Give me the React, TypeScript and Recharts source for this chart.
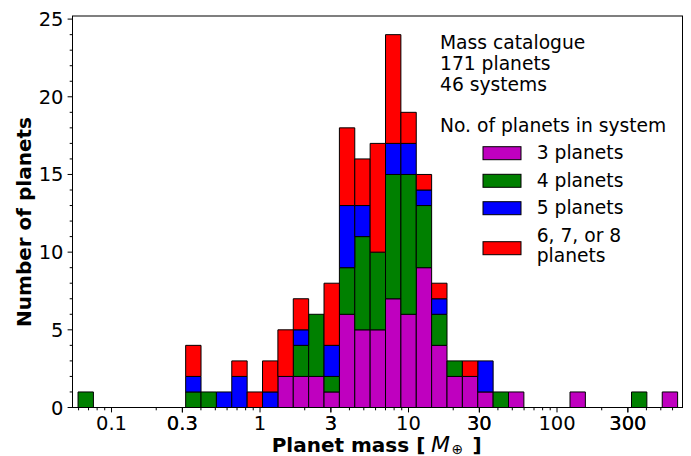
import {BarChart, Bar, XAxis, YAxis} from "recharts";

// histogram bins: equal width in log(mass)
const nBins = 39;
const binLo = 0.0595;
const binHi = 649;

// planets per bin, split by number of planets in the system
const threePlanets = [0, 0, 0, 0, 0, 0, 0, 0, 0, 0, 0, 0, 0, 2, 2, 2, 1, 6, 5, 5, 7, 6, 9, 4, 2, 2, 1, 0, 1, 0, 0, 0, 1, 0, 0, 0, 0, 0, 1];
const fourPlanets = [1, 0, 0, 0, 0, 0, 0, 1, 1, 0, 0, 0, 0, 0, 2, 4, 1, 3, 6, 5, 8, 9, 4, 2, 1, 0, 0, 1, 0, 0, 0, 0, 0, 0, 0, 0, 1, 0, 0];
const fivePlanets = [0, 0, 0, 0, 0, 0, 0, 1, 0, 1, 2, 0, 1, 0, 1, 0, 2, 4, 2, 0, 2, 2, 1, 1, 0, 0, 2, 0, 0, 0, 0, 0, 0, 0, 0, 0, 0, 0, 0];
const sixPlusPlanets = [0, 0, 0, 0, 0, 0, 0, 2, 0, 0, 1, 1, 2, 3, 2, 0, 4, 5, 3, 7, 7, 2, 1, 1, 0, 1, 0, 0, 0, 0, 0, 0, 0, 0, 0, 0, 0, 0, 0];

const xMajor = [0.1, 0.3, 1, 3, 10, 30, 100, 300];
const yMajor = [0, 5, 10, 15, 20, 25];
const xLimits = [0.0546, 700];

const series = [
  {key: "three", name: "3 planets", color: "#bf00bf"},
  {key: "four", name: "4 planets", color: "#008000"},
  {key: "five", name: "5 planets", color: "#0000ff"},
  {key: "six", name: "6, 7, or 8\nplanets", color: "#ff0000"},
];

const FONT = "DejaVu Sans, sans-serif";

const lo = Math.log10(binLo);
const step = (Math.log10(binHi) - lo) / nBins;
const data = threePlanets.map((v, i) => ({
  logm: lo + (i + 0.5) * step,
  three: v,
  four: fourPlanets[i],
  five: fivePlanets[i],
  six: sixPlusPlanets[i],
}));

// minor log ticks 2..9 per decade
var xMinor: number[] = [];
for (let d = -2; d <= 2; d++) {
  for (let k = 2; k <= 9; k++) {
    const v = k * Math.pow(10, d);
    if (v > xLimits[0] && v < xLimits[1]) xMinor.push(v);
  }
}
const xTicks = [...xMajor, ...xMinor].map((t) => Math.log10(t)).sort((a, b) => a - b);
const yTicks = Array.from({length: 26}, (_, i) => i);

function XTick(props: any) {
  const {x, y, payload} = props;
  const major = xMajor.find((t) => Math.abs(Math.log10(t) - payload.value) < 1e-6);
  return (
    <g>
      <line x1={x} x2={x} y1={y} y2={y + (major ? 4.9 : 2.8)} stroke="#000" strokeWidth={1} />
      {major !== undefined && (
        <text x={x} y={y + 22.5} textAnchor="middle" fontSize={19.5} fontFamily={FONT} fill="#000">
          {String(major)}
        </text>
      )}
    </g>
  );
}

function YTick(props: any) {
  const {x, y, payload} = props;
  const major = yMajor.includes(payload.value);
  return (
    <g>
      <line x1={x} x2={x - (major ? 4.9 : 2.8)} y1={y} y2={y} stroke="#000" strokeWidth={1} />
      {major && (
        <text x={x - 9} y={y + 7} textAnchor="end" fontSize={19.5} fontFamily={FONT} fill="#000">
          {payload.value}
        </text>
      )}
    </g>
  );
}

const plot = {left: 72.5, top: 16, right: 682.5, bottom: 407.5};

export default function App() {
  return (
    <div style={{position: "absolute", left: 0, top: 0, width: 691, height: 456, background: "#fff"}}>
      <BarChart
        width={691}
        height={456}
        data={data}
        margin={{top: plot.top, right: 691 - plot.right, bottom: 18.5, left: 12.5}}
        barGap={0}
        barCategoryGap={0}
      >
        <XAxis
          type="number"
          dataKey="logm"
          domain={[Math.log10(xLimits[0]), Math.log10(xLimits[1])]}
          allowDataOverflow
          ticks={xTicks}
          interval={0}
          tickLine={false}
          axisLine={false}
          tickSize={0}
          tickMargin={0}
          height={30}
          tick={<XTick />}
        />
        <YAxis
          type="number"
          domain={[0, 25.2]}
          allowDataOverflow
          ticks={yTicks}
          interval={0}
          tickLine={false}
          axisLine={false}
          tickSize={0}
          tickMargin={0}
          width={60}
          tick={<YTick />}
        />
        {series.map((s) => (
          <Bar
            key={s.key}
            dataKey={s.key}
            stackId="n"
            fill={s.color}
            stroke="#000"
            strokeWidth={1}
            barSize={15.37}
            isAnimationActive={false}
          />
        ))}
      </BarChart>
      <svg
        width={691}
        height={456}
        style={{position: "absolute", left: 0, top: 0, pointerEvents: "none"}}
        fontFamily={FONT}
      >
        <rect
          x={plot.left}
          y={plot.top}
          width={plot.right - plot.left}
          height={plot.bottom - plot.top}
          fill="none"
          stroke="#000"
          strokeWidth={1}
        />
        <text x={271.7} y={451.5} fontSize={20} fontWeight="bold">
          Planet mass [
          <tspan x={431} fontStyle="italic" fontWeight="normal" fontSize={22}>M</tspan>
          <tspan x={451.5} fontSize={14} fontWeight="normal" dy={2}>⊕</tspan>
          <tspan x={472.5} dy={-2}>]</tspan>
        </text>
        <text
          transform="translate(31, 222) rotate(-90)"
          textAnchor="middle"
          fontSize={20}
          fontWeight="bold"
        >
          Number of planets
        </text>
        <g fontSize={18.7}>
          <text x={440} y={48.5}>Mass catalogue</text>
          <text x={440} y={69.5}>171 planets</text>
          <text x={440} y={90.5}>46 systems</text>
          <text x={440} y={132}>No. of planets in system</text>
          {series.map((s, i) => {
            const yTop = [146.7, 174.3, 201.7, 241.7][i];
            const lines = s.name.split("\n");
            return (
              <g key={s.key}>
                <rect x={483} y={yTop} width={38} height={13} fill={s.color} stroke="#000" strokeWidth={1} />
                {lines.map((ln, j) => (
                  <text key={j} x={536.7} y={(lines.length > 1 ? yTop : yTop + 12.5) + j * 20}>
                    {ln}
                  </text>
                ))}
              </g>
            );
          })}
        </g>
      </svg>
    </div>
  );
}
